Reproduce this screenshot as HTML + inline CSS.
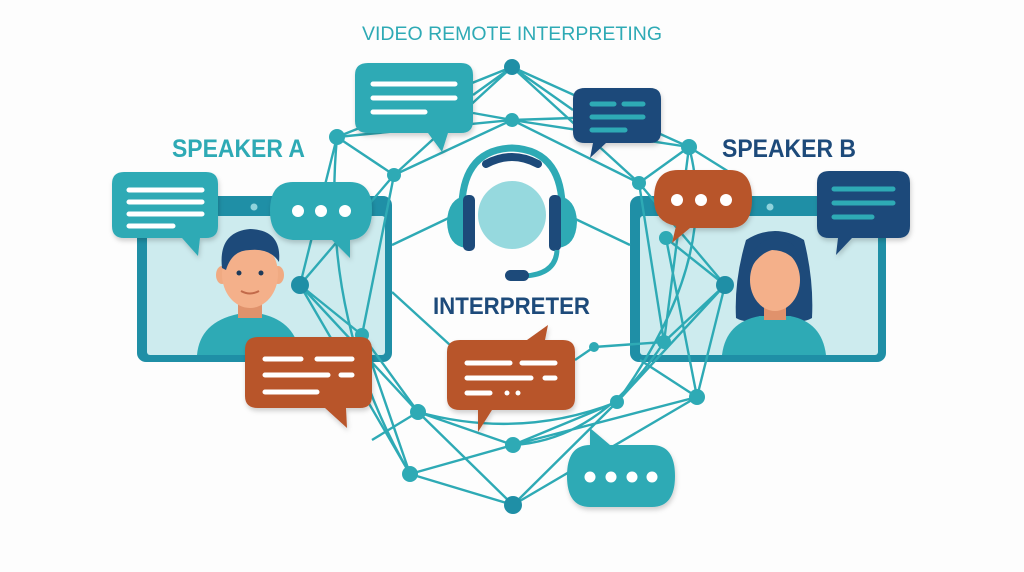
<!DOCTYPE html>
<html><head><meta charset="utf-8"><style>
html,body{margin:0;padding:0;background:#fff;}
svg{display:block;}
text{font-family:"Liberation Sans",sans-serif;}
</style></head><body>
<svg width="1024" height="572" viewBox="0 0 1024 572" xmlns="http://www.w3.org/2000/svg">
<defs>
<filter id="sh" x="-20%" y="-20%" width="140%" height="150%"><feDropShadow dx="1" dy="3" stdDeviation="2.5" flood-color="#000" flood-opacity="0.18"/></filter>
</defs>
<rect width="1024" height="572" fill="#fdfdfd"/>
<text x="362" y="40" font-size="19" fill="#2eaab5" textLength="300" lengthAdjust="spacingAndGlyphs">VIDEO REMOTE INTERPRETING</text>
<text x="172" y="157" font-size="25" font-weight="bold" fill="#2eaab5" textLength="133" lengthAdjust="spacingAndGlyphs">SPEAKER A</text>
<text x="722" y="157" font-size="25" font-weight="bold" fill="#1d4a7a" textLength="134" lengthAdjust="spacingAndGlyphs">SPEAKER B</text>

<!-- monitors -->
<rect x="137" y="196" width="255" height="166" rx="9" fill="#1f8fa6"/>
<rect x="147" y="216" width="238" height="139" rx="3" fill="#cdebee"/>
<circle cx="254" cy="207" r="3.5" fill="#8fd3dc"/>
<rect x="630" y="196" width="256" height="166" rx="9" fill="#1f8fa6"/>
<rect x="640" y="216" width="238" height="139" rx="3" fill="#cdebee"/>
<circle cx="770" cy="207" r="3.5" fill="#8fd3dc"/>

<!-- man -->
<path d="M197 355 Q200 322 238 314 L262 314 Q296 322 300 355 Z" fill="#2eaab5"/>
<rect x="238" y="290" width="24" height="28" fill="#e0926c"/>
<ellipse cx="222" cy="275" rx="6" ry="9" fill="#f0aa82"/>
<ellipse cx="278" cy="275" rx="6" ry="9" fill="#f0aa82"/>
<ellipse cx="250" cy="274" rx="28" ry="34" fill="#f4b08a"/>
<path d="M222 268 Q218 232 250 229 Q282 230 279 262 Q270 248 250 250 Q232 250 226 270 Z" fill="#1d4a7a"/>
<circle cx="239" cy="273" r="2.5" fill="#1d3a5a"/><circle cx="261" cy="273" r="2.5" fill="#1d3a5a"/>
<path d="M241 291 Q250 296 259 291" stroke="#c26a4a" stroke-width="2" fill="none"/>

<!-- woman -->
<path d="M746 240 Q775 222 804 240 Q814 280 812 318 Q800 325 790 316 L760 316 Q748 325 736 318 Q734 280 746 240 Z" fill="#1d4a7a"/>
<path d="M722 355 Q726 322 760 316 L790 316 Q822 322 826 355 Z" fill="#2eaab5"/>
<rect x="764" y="296" width="22" height="24" fill="#e0926c"/>
<ellipse cx="775" cy="280" rx="25" ry="31" fill="#f4b08a"/>
<path d="M750 270 Q750 240 776 238 Q800 240 801 268 Q790 250 772 250 Q758 254 750 270 Z" fill="#1d4a7a"/>

<!-- network -->
<g stroke="#2eaab5" stroke-width="2.4" fill="none">
<path d="M512 67 L394 175 M512 67 L689 147 M512 67 L639 183 M512 67 L337 137 M473 95 L512 67 L573 110"/>
<path d="M512 120 L337 137 M512 120 L394 175 M512 120 L689 147 M512 120 L639 183 M473 113 L512 120 L573 118"/>
<path d="M337 137 L300 285 M394 175 L300 285 M337 137 L394 175 M394 175 L362 335 M300 285 L362 335 M300 285 L418 412 M300 285 L410 474"/>
<path d="M362 335 L418 412 M362 335 L410 474 M418 412 L513 505 M418 412 L513 445 M418 412 Q520 440 617 402"/>
<path d="M410 474 L513 445 M410 474 L513 505 M410 474 Q320 320 337 137 M372 440 L418 412"/>
<path d="M513 445 L617 402 M513 445 L697 397 M513 505 L617 402 M513 505 L697 397 M513 445 Q600 440 664 342"/>
<path d="M617 402 L725 285 M697 397 L725 285 M697 397 L666 238 M617 402 Q720 260 689 147 M725 285 L666 238 M725 285 L639 183 M725 285 L664 342 M664 342 L689 147 M664 342 L639 183"/>
<path d="M594 347 L664 342 M575 360 L594 347 M392 292 L450 345 M455 215 L392 245 M567 215 L630 245"/>
<path d="M689 147 L742 180 M639 183 L689 147 M697 397 L640 360"/>
</g>
<g fill="#2eaab5">
<circle cx="512" cy="120" r="7"/><circle cx="337" cy="137" r="8"/><circle cx="394" cy="175" r="7"/>
<circle cx="689" cy="147" r="8"/><circle cx="639" cy="183" r="7"/><circle cx="666" cy="238" r="7"/>
<circle cx="362" cy="335" r="7"/><circle cx="418" cy="412" r="8"/><circle cx="410" cy="474" r="8"/>
<circle cx="513" cy="445" r="8"/><circle cx="617" cy="402" r="7"/><circle cx="697" cy="397" r="8"/>
<circle cx="594" cy="347" r="5"/><circle cx="664" cy="342" r="7"/>
</g>
<g fill="#1f8fa6">
<circle cx="512" cy="67" r="8"/><circle cx="300" cy="285" r="9"/><circle cx="725" cy="285" r="9"/><circle cx="513" cy="505" r="9"/>
</g>

<!-- headset -->
<circle cx="512" cy="215" r="34" fill="#96d9de"/>
<path d="M462 220 Q458 150 512 148 Q566 150 562 220" stroke="#2eaab5" stroke-width="7" fill="none"/>
<path d="M486 164 Q512 150 538 164" stroke="#1d4a7a" stroke-width="8" stroke-linecap="round" fill="none"/>
<path d="M466 196 Q448 198 447 222 Q448 246 466 248 Z" fill="#2eaab5"/>
<path d="M558 196 Q576 198 577 222 Q576 246 558 248 Z" fill="#2eaab5"/>
<rect x="463" y="195" width="12" height="56" rx="5" fill="#1d4a7a"/>
<rect x="549" y="195" width="12" height="56" rx="5" fill="#1d4a7a"/>
<path d="M557 250 Q556 274 525 276" stroke="#2eaab5" stroke-width="5" fill="none"/>
<rect x="505" y="270" width="24" height="11" rx="5.5" fill="#1d4a7a"/>
<text x="433" y="314" font-size="24" font-weight="bold" fill="#1d4a7a" textLength="157" lengthAdjust="spacingAndGlyphs">INTERPRETER</text>

<!-- bubbles -->
<g filter="url(#sh)">
<path d="M124 172 H206 Q218 172 218 184 V226 Q218 238 206 238 H200 L198 256 L182 238 H124 Q112 238 112 226 V184 Q112 172 124 172 Z" fill="#2eaab5"/>
<path d="M293 182 H350 Q372 182 372 210 Q372 238 350 240 L350 258 L332 240 H293 Q270 238 270 211 Q270 182 293 182 Z" fill="#2eaab5"/>
<path d="M258 337 H360 Q372 337 372 350 V396 Q372 408 360 408 H346 L347 428 L325 408 H258 Q245 408 245 396 V350 Q245 337 258 337 Z" fill="#b8552b"/>
<path d="M460 340 H527 L548 325 L545 340 H563 Q575 340 575 352 V398 Q575 410 563 410 H492 L478 432 L478 410 H460 Q447 410 447 398 V352 Q447 340 460 340 Z" fill="#b8552b"/>
<path d="M368 63 H461 Q473 63 473 75 V121 Q473 133 461 133 H448 L442 152 L428 133 H368 Q355 133 355 121 V75 Q355 63 368 63 Z" fill="#2eaab5"/>
<path d="M585 88 H650 Q661 88 661 99 V132 Q661 143 650 143 H606 L590 158 L593 143 H585 Q573 143 573 132 V99 Q573 88 585 88 Z" fill="#1d4a7a"/>
<path d="M678 170 H730 Q752 170 752 199 Q752 228 730 228 H690 L672 243 L676 226 Q654 222 654 199 Q654 170 678 170 Z" fill="#b8552b"/>
<path d="M829 171 H898 Q910 171 910 183 V226 Q910 238 898 238 H852 L836 255 L838 238 H829 Q817 238 817 226 V183 Q817 171 829 171 Z" fill="#1d4a7a"/>
<path d="M590 445 L590 428 L610 445 H652 Q675 445 675 476 Q675 507 652 507 H590 Q567 507 567 476 Q567 445 590 445 Z" fill="#2eaab5"/>
</g>
<g stroke="#fff" stroke-width="5" stroke-linecap="round">
<path d="M129 190 H202 M129 202 H202 M129 214 H202 M129 226 H173"/>
<path d="M265 359 H301 M317 359 H352 M265 375 H328 M341 375 H352 M265 392 H317"/>
<path d="M467 363 H510 M522 363 H555 M467 378 H531 M545 378 H555 M467 393 H490"/>
<path d="M373 84 H455 M373 98 H455 M373 112 H425"/>
<path d="M834 189 H893 M834 203 H893 M834 217 H872" stroke="#2eaab5"/>
<path d="M592 104 H614 M624 104 H643 M592 117 H643 M592 130 H625" stroke="#2eaab5"/>
</g>
<g fill="#fff">
<circle cx="298" cy="211" r="6"/><circle cx="321" cy="211" r="6"/><circle cx="345" cy="211" r="6"/>
<circle cx="677" cy="200" r="6"/><circle cx="701" cy="200" r="6"/><circle cx="726" cy="200" r="6"/>
<circle cx="590" cy="477" r="5.5"/><circle cx="611" cy="477" r="5.5"/><circle cx="632" cy="477" r="5.5"/><circle cx="652" cy="477" r="5.5"/>
<circle cx="507" cy="393" r="2.5"/><circle cx="518" cy="393" r="2.5"/>
</g>
</svg>
</body></html>
